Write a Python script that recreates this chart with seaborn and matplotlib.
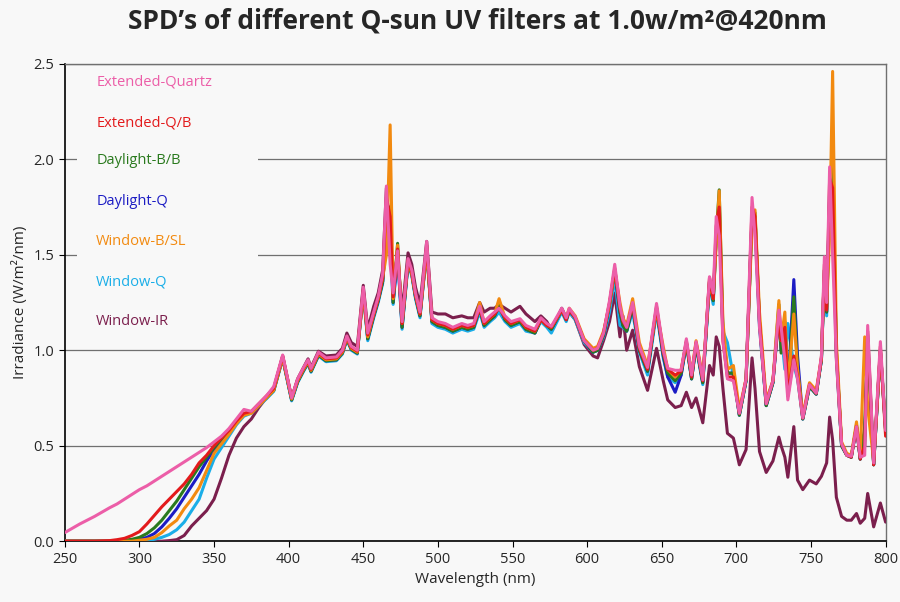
import pandas as pd
import matplotlib.pyplot as plt
import seaborn as sns
from matplotlib.patches import Rectangle

# wavelength grid (nm)
wavelength = [
    250, 260, 270, 280, 285, 290, 295, 300, 305, 310,
    315, 320, 325, 330, 335, 340, 345, 350, 355, 360,
    365, 370, 375, 380, 385, 390, 396, 402, 406, 410,
    413, 415, 420, 425, 432, 436, 439, 442, 446, 450,
    453, 457, 460, 463, 465.5, 468, 470, 473, 476, 480,
    482.5, 485, 488, 492.5, 496, 500, 505, 510, 516, 520,
    524, 528, 531, 535, 538, 541, 545, 549, 555, 559,
    565, 569, 573, 576, 583, 586, 588, 592, 598, 604,
    607, 611, 615, 618.5, 622, 624, 626.5, 630.5, 635, 640.5,
    646.5, 651, 654, 659, 663, 666.5, 670, 673, 677.5, 682,
    684.5, 686.5, 688.5, 691, 694, 698, 702, 706.5, 710.5, 712.5,
    715.5, 720, 724.5, 728.5, 730, 732.5, 734.5, 738.5, 741, 744.5,
    749, 753.5, 757, 759, 760.5, 762.5, 764.5, 767, 770.5, 774,
    777, 780.5, 783, 786, 788, 792, 796.5, 800,
]

extended_quartz = [
    0.045, 0.09, 0.13, 0.175, 0.195, 0.22, 0.245, 0.27, 0.29, 0.315,
    0.34, 0.365, 0.39, 0.415, 0.44, 0.465, 0.49, 0.52, 0.55, 0.59,
    0.64, 0.69, 0.68, 0.72, 0.76, 0.81, 0.975, 0.75, 0.85, 0.91,
    0.95, 0.905, 0.99, 0.96, 0.965, 1.0, 1.075, 1.02, 1.0, 1.33,
    1.09, 1.2, 1.28, 1.4, 1.86, 1.45, 1.3, 1.52, 1.15, 1.48,
    1.42, 1.3, 1.2, 1.57, 1.17, 1.15, 1.14, 1.12, 1.14, 1.13,
    1.14, 1.23, 1.15, 1.18, 1.2, 1.22, 1.18, 1.15, 1.165, 1.13,
    1.11, 1.17, 1.14, 1.125, 1.22, 1.17, 1.22, 1.175, 1.05, 1.0,
    1.01, 1.09, 1.26, 1.45, 1.23, 1.16, 1.12, 1.25, 1.02, 0.91,
    1.245, 1.0, 0.905, 0.895, 0.895, 1.06, 0.87, 1.045, 0.845, 1.385,
    1.3, 1.7, 1.6, 1.05, 0.85, 0.84, 0.67, 0.85, 1.8, 1.6,
    1.12, 0.72, 0.84, 1.21, 1.12, 0.95, 0.74, 0.95, 0.85, 0.645,
    0.82, 0.775, 0.97, 1.49, 1.25, 1.96, 1.5, 0.95, 0.51, 0.45,
    0.445, 0.6, 0.44, 0.45, 1.13, 0.41, 1.045, 0.58,
]

extended_qb = [
    0, 0, 0, 0.003, 0.008, 0.015, 0.03, 0.05, 0.09, 0.135,
    0.18, 0.22, 0.26, 0.3, 0.35, 0.41, 0.45, 0.5, 0.54, 0.58,
    0.63, 0.67, 0.68, 0.72, 0.76, 0.8, 0.97, 0.75, 0.845, 0.905,
    0.945, 0.9, 0.985, 0.955, 0.96, 0.995, 1.07, 1.015, 0.995, 1.32,
    1.08, 1.19, 1.27, 1.38, 1.8, 1.7, 1.28, 1.53, 1.14, 1.47,
    1.41, 1.29, 1.19, 1.55, 1.16, 1.14, 1.13, 1.11, 1.13, 1.12,
    1.13, 1.22, 1.14, 1.17, 1.19, 1.22, 1.17, 1.14, 1.16, 1.12,
    1.1, 1.16, 1.13, 1.12, 1.21, 1.16, 1.21, 1.17, 1.05, 1.0,
    1.01, 1.09, 1.25, 1.43, 1.22, 1.15, 1.12, 1.24, 1.01, 0.9,
    1.23, 0.99, 0.9, 0.87, 0.89, 1.05, 0.86, 1.04, 0.84, 1.38,
    1.27, 1.65, 1.75, 1.05, 0.86, 0.86, 0.67, 0.85, 1.75, 1.7,
    1.15, 0.72, 0.84, 1.18, 1.05, 1.12, 0.76, 0.97, 0.86, 0.645,
    0.82, 0.775, 0.96, 1.45, 1.21, 1.9, 1.85, 0.97, 0.51, 0.45,
    0.44, 0.6, 0.43, 0.5, 1.1, 0.4, 1.02, 0.55,
]

daylight_bb = [
    0, 0, 0, 0, 0, 0.005, 0.01, 0.02, 0.04, 0.07,
    0.11, 0.16, 0.21, 0.27, 0.33, 0.39, 0.44, 0.49, 0.535, 0.58,
    0.63, 0.665, 0.675, 0.715, 0.75, 0.79, 0.96, 0.74, 0.835, 0.895,
    0.935, 0.89, 0.975, 0.945, 0.95, 0.985, 1.06, 1.005, 0.985, 1.31,
    1.06, 1.18, 1.26, 1.36, 1.6, 1.75, 1.25, 1.56, 1.12, 1.46,
    1.4, 1.28, 1.18, 1.53, 1.15, 1.13, 1.12, 1.1, 1.12, 1.11,
    1.12, 1.22, 1.13, 1.16, 1.18, 1.24, 1.16, 1.13, 1.15, 1.11,
    1.09, 1.16, 1.13, 1.11, 1.21, 1.16, 1.21, 1.17, 1.05, 0.99,
    1.0, 1.08, 1.24, 1.42, 1.2, 1.13, 1.1, 1.23, 1.0, 0.89,
    1.22, 0.98, 0.88, 0.84, 0.88, 1.04, 0.85, 1.03, 0.83, 1.36,
    1.26, 1.6, 1.84, 1.1, 0.88, 0.88, 0.66, 0.84, 1.7, 1.72,
    1.15, 0.71, 0.83, 1.24, 0.985, 1.15, 0.78, 1.28, 0.9, 0.64,
    0.81, 0.77, 0.95, 1.42, 1.2, 1.8, 1.95, 1.0, 0.5, 0.45,
    0.44, 0.61, 0.43, 0.6, 1.05, 0.4, 1.0, 0.58,
]

daylight_q = [
    0, 0, 0, 0, 0, 0, 0.005, 0.01, 0.02, 0.04,
    0.075, 0.12, 0.17, 0.23, 0.29, 0.35, 0.42, 0.48, 0.525, 0.57,
    0.625, 0.665, 0.675, 0.715, 0.75, 0.79, 0.96, 0.74, 0.835, 0.895,
    0.935, 0.89, 0.975, 0.945, 0.95, 0.985, 1.06, 1.005, 0.985, 1.31,
    1.06, 1.18, 1.26, 1.36, 1.6, 1.75, 1.25, 1.5, 1.12, 1.46,
    1.4, 1.28, 1.18, 1.53, 1.15, 1.13, 1.12, 1.1, 1.12, 1.11,
    1.12, 1.22, 1.13, 1.16, 1.18, 1.24, 1.16, 1.13, 1.15, 1.11,
    1.09, 1.16, 1.13, 1.11, 1.21, 1.16, 1.21, 1.17, 1.05, 0.99,
    1.0, 1.08, 1.24, 1.42, 1.2, 1.13, 1.1, 1.23, 1.0, 0.89,
    1.22, 0.97, 0.86, 0.78, 0.87, 1.04, 0.85, 1.03, 0.83, 1.36,
    1.26, 1.6, 1.78, 1.08, 0.88, 0.88, 0.66, 0.84, 1.7, 1.7,
    1.14, 0.71, 0.83, 1.2, 1.0, 1.12, 0.78, 1.37, 0.97, 0.64,
    0.81, 0.77, 0.95, 1.42, 1.2, 1.8, 1.9, 1.0, 0.5, 0.45,
    0.44, 0.6, 0.43, 0.55, 1.05, 0.4, 1.0, 0.58,
]

window_bsl = [
    0, 0, 0, 0, 0, 0, 0, 0.005, 0.01, 0.02,
    0.045, 0.08, 0.11, 0.17, 0.22, 0.28, 0.37, 0.46, 0.51, 0.56,
    0.615, 0.66, 0.67, 0.71, 0.75, 0.79, 0.96, 0.745, 0.84, 0.9,
    0.94, 0.895, 0.98, 0.95, 0.955, 0.99, 1.065, 1.01, 0.99, 1.3,
    1.07, 1.19, 1.27, 1.38, 1.5, 2.18, 1.27, 1.55, 1.14, 1.47,
    1.4, 1.29, 1.19, 1.52, 1.16, 1.14, 1.13, 1.11, 1.13, 1.12,
    1.13, 1.25, 1.14, 1.17, 1.19, 1.27, 1.17, 1.14, 1.16, 1.12,
    1.1, 1.16, 1.13, 1.12, 1.21, 1.17, 1.22, 1.18, 1.06, 1.01,
    1.02, 1.1, 1.24, 1.42, 1.25, 1.17, 1.13, 1.27, 1.04, 0.92,
    1.21, 1.02, 0.9, 0.86, 0.9, 1.04, 0.88, 1.05, 0.86, 1.36,
    1.27, 1.55, 1.835, 1.15, 0.9, 0.92, 0.69, 0.85, 1.65, 1.735,
    1.2, 0.74, 0.84, 1.26, 1.05, 1.2, 0.8, 1.19, 0.9, 0.66,
    0.83, 0.79, 0.96, 1.42, 1.22, 1.6, 2.46, 1.05, 0.52, 0.46,
    0.45, 0.625, 0.45, 1.07, 0.7, 0.42, 1.0, 0.6,
]

window_q = [
    0, 0, 0, 0, 0, 0, 0, 0, 0.003, 0.01,
    0.02, 0.035, 0.06, 0.1, 0.16, 0.22, 0.33, 0.43, 0.49, 0.55,
    0.61, 0.655, 0.67, 0.71, 0.745, 0.785, 0.955, 0.735, 0.83, 0.89,
    0.93, 0.885, 0.97, 0.94, 0.945, 0.98, 1.055, 1.0, 0.98, 1.3,
    1.05, 1.17, 1.25, 1.35, 1.75, 1.55, 1.24, 1.5, 1.11, 1.45,
    1.39, 1.27, 1.17, 1.52, 1.14, 1.12, 1.11, 1.09, 1.11, 1.1,
    1.11, 1.2, 1.12, 1.15, 1.17, 1.2, 1.15, 1.12, 1.14, 1.1,
    1.09, 1.15, 1.12, 1.09, 1.2, 1.15, 1.2, 1.16, 1.04, 0.99,
    1.0, 1.07, 1.2, 1.38, 1.13, 1.12, 1.1, 1.2, 0.99, 0.87,
    1.2, 0.96, 0.86, 0.83, 0.87, 1.03, 0.85, 1.02, 0.82, 1.34,
    1.24, 1.6, 1.7, 1.1, 1.04, 0.86, 0.66, 0.84, 1.7, 1.65,
    1.12, 0.71, 0.83, 1.18, 1.1, 0.9, 1.14, 0.92, 0.85, 0.64,
    0.81, 0.77, 0.95, 1.4, 1.18, 1.85, 1.7, 0.96, 0.5, 0.45,
    0.44, 0.6, 0.43, 0.5, 1.08, 0.4, 1.0, 0.6,
]

window_ir = [
    0, 0, 0, 0, 0, 0, 0, 0, 0, 0,
    0.0, 0.003, 0.008, 0.03, 0.08, 0.12, 0.16, 0.22, 0.33, 0.45,
    0.54, 0.6, 0.64, 0.7, 0.75, 0.8, 0.97, 0.75, 0.85, 0.91,
    0.955, 0.91, 0.995, 0.97, 0.975, 1.01, 1.09, 1.04, 1.02, 1.34,
    1.11, 1.23, 1.3, 1.42, 1.85, 1.5, 1.35, 1.5, 1.2, 1.51,
    1.45, 1.33, 1.24, 1.57, 1.2, 1.19, 1.19, 1.17, 1.18, 1.17,
    1.17, 1.25, 1.2, 1.22, 1.22, 1.24, 1.22, 1.2, 1.23, 1.19,
    1.15, 1.18, 1.15, 1.105, 1.22, 1.17, 1.2, 1.16, 1.03, 0.97,
    0.96, 1.05, 1.15, 1.3, 1.07, 1.18, 1.0, 1.105, 0.914, 0.79,
    1.01, 0.84, 0.74, 0.7, 0.71, 0.78, 0.7, 0.75, 0.62, 0.92,
    0.87, 1.07, 1.02, 0.8, 0.565, 0.54, 0.4, 0.48, 0.96, 0.8,
    0.47, 0.36, 0.42, 0.545, 0.5, 0.44, 0.335, 0.6, 0.32, 0.27,
    0.32, 0.3, 0.34, 0.38, 0.41, 0.65, 0.53, 0.23, 0.13, 0.11,
    0.11, 0.145, 0.094, 0.12, 0.25, 0.075, 0.2, 0.1,
]

labels = ['Extended-Quartz', 'Extended-Q/B', 'Daylight-B/B', 'Daylight-Q',
          'Window-B/SL', 'Window-Q', 'Window-IR']
colors = ['#ec5ea8', '#e31a1c', '#2a7a1e', '#1c1cc4', '#f28a10', '#1aaee8', '#7b1f4d']
series = [extended_quartz, extended_qb, daylight_bb, daylight_q,
          window_bsl, window_q, window_ir]

bg = '#f8f8f8'
sns.set_style('white')
plt.rcParams['font.family'] = ['Open Sans', 'DejaVu Sans']

fig = plt.figure(figsize=(9, 6.02), dpi=100, facecolor=bg)
ax = fig.add_axes([0.072, 0.101, 0.912, 0.793], facecolor=bg)

# draw order: Window-IR at the bottom, Extended-Quartz on top
draw_order = [6, 5, 3, 2, 4, 1, 0]
for z, i in enumerate(draw_order):
    sns.lineplot(x=wavelength, y=series[i], color=colors[i], linewidth=2.2,
                 ax=ax, zorder=3 + z)

ax.set_xlim(250, 800)
ax.set_ylim(0, 2.5)
ax.set_xticks(range(250, 801, 50))
ax.set_yticks([0, 0.5, 1.0, 1.5, 2.0, 2.5])
ax.set_yticklabels(['0.0', '0.5', '1.0', '1.5', '2.0', '2.5'])
ax.yaxis.grid(True, color='#707070', linewidth=0.9)
ax.set_axisbelow(True)
ax.tick_params(axis='both', labelsize=10.5, length=4, direction='out',
               color='black', left=True, bottom=True)

for side in ['top', 'right']:
    ax.spines[side].set_color('#707070')
    ax.spines[side].set_linewidth(1.0)
for side in ['left', 'bottom']:
    ax.spines[side].set_color('black')
    ax.spines[side].set_linewidth(1.2)

# white box behind series names hides grid lines
ax.add_patch(Rectangle((0.015, 0.42), 0.22, 0.56, transform=ax.transAxes,
                       facecolor=bg, edgecolor='none', zorder=1.5))
label_y = [2.405, 2.19, 1.995, 1.78, 1.57, 1.36, 1.153]
for i, name in enumerate(labels):
    ax.text(271, label_y[i], name, color=colors[i], fontsize=10.5,
            va='center', ha='left', zorder=20)

ax.set_xlabel('Wavelength (nm)', fontsize=11)
ax.set_ylabel('Irradiance (W/m²/nm)', fontsize=11)
fig.text(0.53, 0.965, 'SPD’s of different Q-sun UV filters at 1.0w/m²@420nm',
         ha='center', va='center', fontsize=19, fontweight='bold')

fig.savefig('out.png', dpi=100, facecolor=bg)
